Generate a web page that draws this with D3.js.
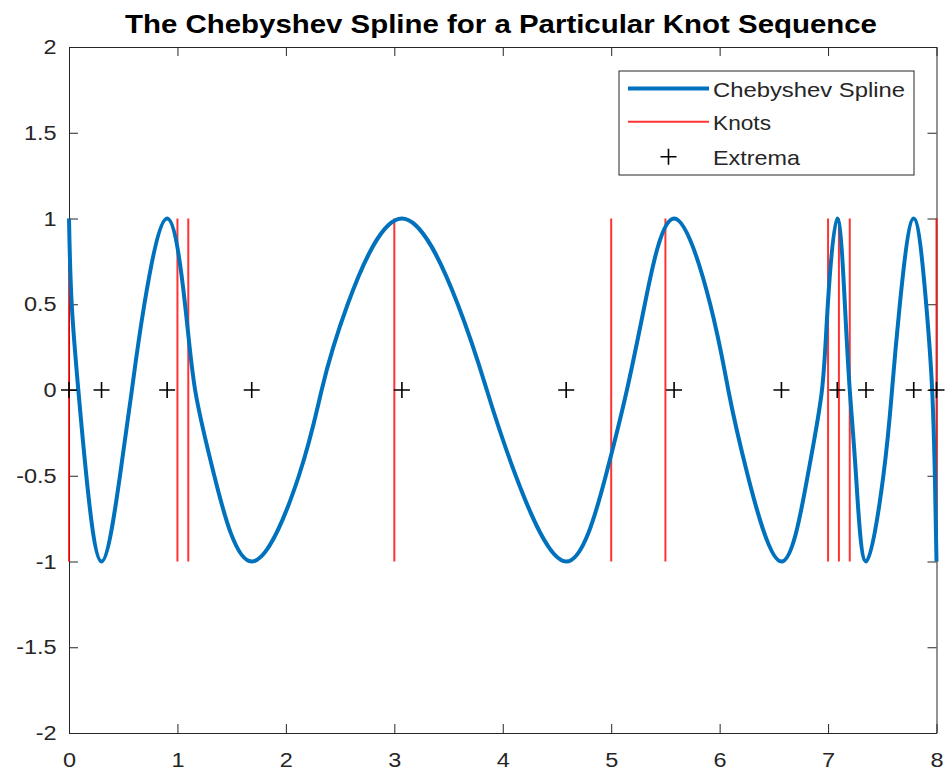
<!DOCTYPE html>
<html>
<head>
<meta charset="utf-8">
<script src="https://cdn.jsdelivr.net/npm/d3@7"></script>
<style>
  body { margin: 0; background: #fff; }
  text { font-family: "Liberation Sans", Arial, sans-serif; fill: #262626; }
</style>
</head>
<body>
<div id="chart"></div>
<script>
// knot sequence (interior + ends)
const knots = [0, 1, 1.1, 3, 5, 5.5, 7, 7.1, 7.2, 8];
// positions of the extrema, plotted on the zero line
const extremaX = [0, 0.30, 0.905, 1.685, 3.07, 4.585, 5.58, 6.57, 7.085, 7.35, 7.79, 8];
// spline: extrema, half-levels and zero crossings
const splineX = [0, 0.025, 0.086, 0.16, 0.30,
                 0.47, 0.58, 0.695, 0.905,
                 1.07, 1.163, 1.34, 1.685,
                 2.12, 2.33, 2.57, 3.07,
                 3.585, 3.853, 4.12, 4.585,
                 4.95, 5.145, 5.31, 5.58,
                 5.913, 6.08, 6.26, 6.57,
                 6.812, 6.944, 6.998, 7.085,
                 7.155, 7.20, 7.258, 7.35,
                 7.51, 7.59, 7.662, 7.79,
                 7.905, 7.96, 7.985, 8];
const splineY = [1, 0.5, 0, -0.5, -1,
                 -0.5, 0, 0.5, 1,
                 0.5, 0, -0.5, -1,
                 -0.5, 0, 0.5, 1,
                 0.5, 0, -0.5, -1,
                 -0.5, 0, 0.5, 1,
                 0.5, 0, -0.5, -1,
                 -0.5, 0, 0.5, 1,
                 0.5, 0, -0.5, -1,
                 -0.5, 0, 0.5, 1,
                 0.5, 0, -0.5, -1];
const xTicks = [0, 1, 2, 3, 4, 5, 6, 7, 8];
const yTicks = [-2, -1.5, -1, -0.5, 0, 0.5, 1, 1.5, 2];
const legendLabels = ["Chebyshev Spline", "Knots", "Extrema"];

const margin = {top: 47, right: 8.5, bottom: 41, left: 69},
      width = 945 - margin.left - margin.right,
      height = 774 - margin.top - margin.bottom;

const root = d3.select("#chart")
               .append("svg")
               .attr("width", 945)
               .attr("height", 774);

const svg = root.append("g")
                .attr("transform", `translate(${margin.left},${margin.top})`);

const x = d3.scaleLinear().domain([0, 8]).range([0, width]);
const y = d3.scaleLinear().domain([-2, 2]).range([height, 0]);

const axisColor = "#262626";
const tickLen = 9;

// axes (box with inward ticks on all four sides)
function styleAxis(g) {
  g.select(".domain").attr("stroke", axisColor).attr("stroke-width", 1);
  g.selectAll(".tick line").attr("stroke", axisColor);
  g.selectAll("text")
   .style("font-size", "21px")
   .attr("fill", axisColor)
   .attr("transform", "scale(1.12,1)");
}

svg.append("g")
   .attr("transform", `translate(0,${height})`)
   .call(d3.axisBottom(x).tickValues(xTicks).tickSizeInner(-tickLen).tickSizeOuter(0).tickPadding(19))
   .call(styleAxis);

svg.append("g")
   .call(d3.axisTop(x).tickValues(xTicks).tickSizeInner(-tickLen).tickSizeOuter(0).tickFormat(""))
   .call(styleAxis);

svg.append("g")
   .call(d3.axisLeft(y).tickValues(yTicks).tickSizeInner(-tickLen).tickSizeOuter(0).tickPadding(11)
           .tickFormat(d => String(d)))
   .call(styleAxis);

svg.append("g")
   .attr("transform", `translate(${width},0)`)
   .call(d3.axisRight(y).tickValues(yTicks).tickSizeInner(-tickLen).tickSizeOuter(0).tickFormat(""))
   .call(styleAxis);

// knots
svg.selectAll(".knot")
   .data(knots)
   .enter()
   .append("line")
   .attr("class", "knot")
   .attr("x1", d => x(d))
   .attr("x2", d => x(d))
   .attr("y1", y(-1))
   .attr("y2", y(1))
   .attr("stroke", "#ff0000")
   .attr("stroke-opacity", 0.8)
   .attr("stroke-width", 2);

// spline
const splineData = splineX.map((v, i) => ({x: v, y: splineY[i]}));
const line = d3.line()
               .x(d => x(d.x))
               .y(d => y(d.y))
               .curve(d3.curveNatural);

svg.append("path")
   .datum(splineData)
   .attr("fill", "none")
   .attr("stroke", "#0072BD")
   .attr("stroke-width", 4)
   .attr("stroke-linejoin", "round")
   .attr("d", line);

// extrema markers
const crossPath = "M-8,0H8M0,-8V8";
svg.selectAll(".extremum")
   .data(extremaX)
   .enter()
   .append("path")
   .attr("class", "extremum")
   .attr("transform", d => `translate(${x(d)},${y(0)})`)
   .attr("d", crossPath)
   .attr("stroke", "#000")
   .attr("stroke-width", 1.6)
   .attr("fill", "none");

// title
root.append("text")
    .attr("x", 501)
    .attr("y", 33)
    .attr("text-anchor", "middle")
    .attr("textLength", 752)
    .attr("lengthAdjust", "spacingAndGlyphs")
    .style("font-size", "26px")
    .style("font-weight", "bold")
    .style("fill", "#000")
    .text("The Chebyshev Spline for a Particular Knot Sequence");

// legend
const legend = root.append("g").attr("transform", "translate(619,71)");
legend.append("rect")
      .attr("width", 295)
      .attr("height", 104)
      .attr("fill", "#fff")
      .attr("stroke", axisColor)
      .attr("stroke-width", 1);

const rowY = [17.5, 50.7, 85.7];
const labelLen = [192, 58, 87];
legend.append("line")
      .attr("x1", 9).attr("x2", 90).attr("y1", rowY[0]).attr("y2", rowY[0])
      .attr("stroke", "#0072BD").attr("stroke-width", 4);
legend.append("line")
      .attr("x1", 9).attr("x2", 90).attr("y1", rowY[1]).attr("y2", rowY[1])
      .attr("stroke", "#ff0000").attr("stroke-opacity", 0.8).attr("stroke-width", 2);
legend.append("path")
      .attr("transform", `translate(49.5,${rowY[2]})`)
      .attr("d", crossPath)
      .attr("stroke", "#000").attr("stroke-width", 1.6).attr("fill", "none");

legend.selectAll(".lbl")
      .data(legendLabels)
      .enter()
      .append("text")
      .attr("class", "lbl")
      .attr("x", 94)
      .attr("y", (d, i) => rowY[i] + 8)
      .attr("textLength", (d, i) => labelLen[i])
      .attr("lengthAdjust", "spacingAndGlyphs")
      .style("font-size", "21px")
      .text(d => d);
</script>
</body>
</html>
